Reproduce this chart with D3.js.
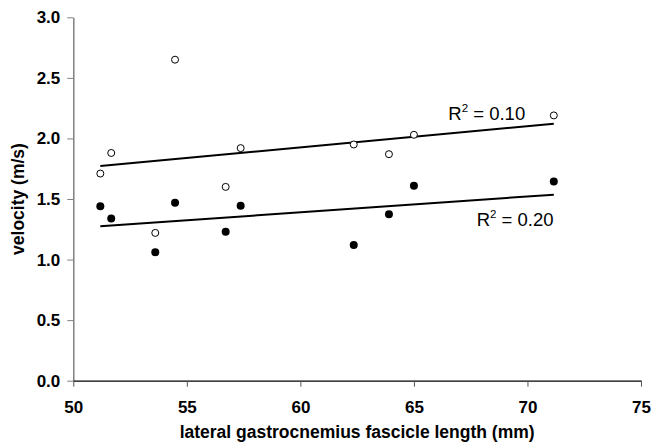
<!DOCTYPE html>
<html>
<head>
<meta charset="utf-8">
<script src="https://cdn.jsdelivr.net/npm/d3@7"></script>
<style>
  body { margin: 0; background: #fff; }
  svg text { font-family: Arial, "Liberation Sans", sans-serif; }
</style>
</head>
<body>
<div id="chart"></div>
<script>
// fascicle length (mm) for each subject
const lengths = [51.19, 51.67, 53.61, 54.48, 56.71, 57.37, 62.35, 63.9, 65.0, 71.16];
// open circles
const velocityOpen = [1.71, 1.88, 1.22, 2.65, 1.60, 1.92, 1.95, 1.87, 2.03, 2.19];
// filled circles
const velocityFilled = [1.44, 1.34, 1.06, 1.47, 1.23, 1.445, 1.12, 1.375, 1.61, 1.645];
// fitted lines [x, y] end points
const fitOpen = [[51.19, 1.772], [71.16, 2.122]];
const fitFilled = [[51.19, 1.275], [71.16, 1.536]];
const xTicks = [50, 55, 60, 65, 70, 75];
const yTicks = [0, 0.5, 1.0, 1.5, 2.0, 2.5, 3.0];

const W = 652, H = 446;
const MARGIN = { top: 17.3, right: 11, bottom: 65.3, left: 73.3 };
const WIDTH = W - MARGIN.left - MARGIN.right;
const HEIGHT = H - MARGIN.top - MARGIN.bottom;

let svg = d3.select('#chart')
  .append('svg')
  .attr('width', W)
  .attr('height', H)
  .append('g')
  .attr('transform', 'translate(' + MARGIN.left + ',' + MARGIN.top + ')');

let x = d3.scaleLinear().domain([50, 75]).range([0, WIDTH]);
let y = d3.scaleLinear().domain([0, 3]).range([HEIGHT, 0]);

// y axis (grey)
let yAxis = svg.append('g')
  .call(d3.axisLeft(y).tickValues(yTicks).tickFormat(d3.format('.1f')).tickSize(6).tickSizeOuter(0).tickPadding(7));
yAxis.select('.domain').attr('stroke', '#808080').attr('stroke-width', 1.5);
yAxis.selectAll('.tick line').attr('stroke', '#808080');
yAxis.selectAll('text').attr('font-size', 17).attr('font-weight', 'bold').attr('fill', '#000')
  .style('font-family', 'Arial, "Liberation Sans", sans-serif');

// x axis
let xAxis = svg.append('g')
  .attr('transform', 'translate(0,' + HEIGHT + ')')
  .call(d3.axisBottom(x).tickValues(xTicks).tickSize(6).tickSizeOuter(0).tickPadding(14));
xAxis.select('.domain').attr('stroke', '#000').attr('stroke-width', 1.3);
xAxis.selectAll('.tick line').attr('stroke', '#555');
xAxis.selectAll('text').attr('font-size', 17).attr('font-weight', 'bold').attr('fill', '#000')
  .style('font-family', 'Arial, "Liberation Sans", sans-serif');

// fitted lines
let line = d3.line().x(d => x(d[0])).y(d => y(d[1]));
[fitOpen, fitFilled].forEach(function (fit) {
  svg.append('path')
    .datum(fit)
    .attr('fill', 'none')
    .attr('stroke', '#000')
    .attr('stroke-width', 2)
    .attr('d', line);
});

// points
svg.selectAll('.open')
  .data(lengths)
  .enter().append('circle')
  .attr('cx', d => x(d))
  .attr('cy', (d, i) => y(velocityOpen[i]))
  .attr('r', 3.5)
  .attr('fill', '#fff')
  .attr('stroke', '#000')
  .attr('stroke-width', 1);

svg.selectAll('.filled')
  .data(lengths)
  .enter().append('circle')
  .attr('cx', d => x(d))
  .attr('cy', (d, i) => y(velocityFilled[i]))
  .attr('r', 4)
  .attr('fill', '#000');

// R² labels
function r2Label(px, py, value) {
  let t = svg.append('text')
    .attr('x', px)
    .attr('y', py)
    .attr('font-size', 18.5)
    .attr('fill', '#000');
  t.append('tspan').text('R');
  t.append('tspan').attr('font-size', 11.5).attr('dy', -8).text('2');
  t.append('tspan').attr('dy', 8).text(' = ' + value);
}
r2Label(448.3 - MARGIN.left, 120 - MARGIN.top, '0.10');
r2Label(476.7 - MARGIN.left, 225.7 - MARGIN.top, '0.20');

// axis titles
svg.append('text')
  .attr('x', WIDTH / 2)
  .attr('y', HEIGHT + 57)
  .attr('text-anchor', 'middle')
  .attr('font-size', 17.5)
  .attr('font-weight', 'bold')
  .text('lateral gastrocnemius fascicle length (mm)');

svg.append('text')
  .attr('transform', 'translate(' + (24 - MARGIN.left) + ',' + (HEIGHT / 2) + ') rotate(-90)')
  .attr('text-anchor', 'middle')
  .attr('font-size', 17.5)
  .attr('font-weight', 'bold')
  .text('velocity (m/s)');
</script>
</body>
</html>
